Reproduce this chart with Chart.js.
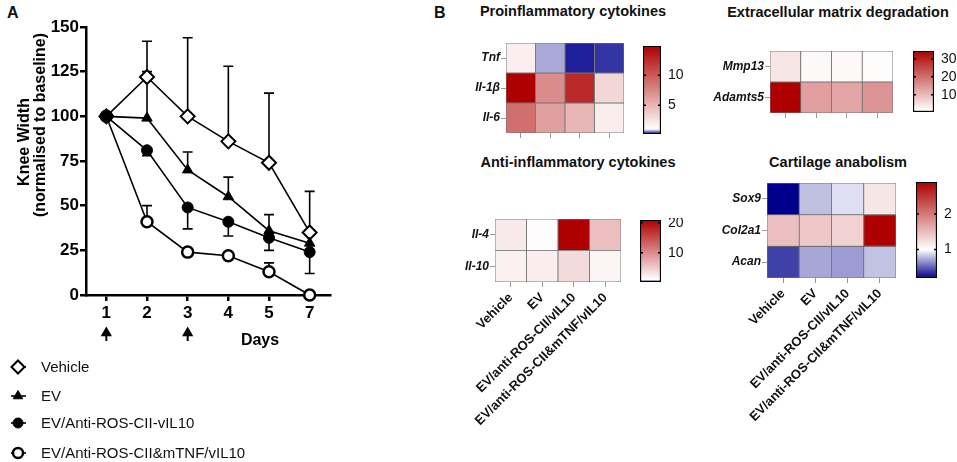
<!DOCTYPE html>
<html>
<head>
<meta charset="utf-8">
<script src="https://cdn.jsdelivr.net/npm/chart.js@4.4.1/dist/chart.umd.min.js"></script>
<style>
body { margin: 0; background: #fff; width: 957px; height: 462px; position: relative; overflow: hidden; font-family: "Liberation Sans", Arial, sans-serif; }
canvas { position: absolute; }
.t { position: absolute; font-weight: bold; white-space: nowrap; color: #111; line-height: 1; }
.c { transform: translateX(-50%); font-size: 14.5px; }
</style>
</head>
<body>
<div class="t" style="left:7px;top:5px;font-size:16px">A</div>
<div class="t" style="left:434px;top:5px;font-size:16px">B</div>
<div class="t c" style="left:573px;top:4px">Proinflammatory cytokines</div>
<div class="t c" style="left:838px;top:5px">Extracellular matrix degradation</div>
<div class="t c" style="left:578px;top:155px">Anti-inflammatory cytokines</div>
<div class="t c" style="left:838px;top:155px">Cartilage anabolism</div>

<canvas id="lineA" width="340" height="462" style="left:0;top:0"></canvas>
<canvas id="hmPro"></canvas><canvas id="cbPro"></canvas>
<canvas id="hmEcm"></canvas><canvas id="cbEcm"></canvas>
<canvas id="hmAnti"></canvas><canvas id="cbAnti"></canvas>
<canvas id="hmCart"></canvas><canvas id="cbCart"></canvas>

<script>
// パネルA: 膝幅の推移
const days = ['1', '2', '3', '4', '5', '7']
const vehicle = [100, 122, 100, 86, 74, 35]
const vehicleErrUp = [0, 20, 44, 42, 39, 23]
const ev = [100, 99, 70, 55, 36, 29]
const evErrUp = [0, 26, 10, 11, 9, 0]
const evCii = [100, 81, 49, 41, 32, 24]
const evCiiErrDown = [0, 3, 12, 8, 7, 12]
const evMtnf = [100, 41, 24, 22, 13, 0]
const evMtnfErrUp = [0, 9, 0, 0, 5, 0]
const injectionDays = ['1', '3']

// パネルB: ヒートマップ
const groups = ['Vehicle', 'EV', 'EV/anti-ROS-CII/vIL10', 'EV/anti-ROS-CII&mTNF/vIL10']
const proGenes = ['Tnf', 'Il-1β', 'Il-6']
const proTnf = [1.9, 0.72, 0.27, 0.34]
const proIl1b = [14.9, 7.3, 12.7, 3.2]
const proIl6 = [8.9, 6.2, 5.0, 2.0]
const proRange = [0.17, 14.9]
const proTicks = [5, 10]

const ecmGenes = ['Mmp13', 'Adamts5']
const ecmMmp13 = [4.3, 1.8, 1.8, 1.5]
const ecmAdamts5 = [34.5, 13.6, 13.0, 15.0]
const ecmRange = [0.3, 34.5]
const ecmTicks = [10, 20, 30]

const antiGenes = ['Il-4', 'Il-10']
const antiIl4 = [2.6, 1.2, 20.9, 6.0]
const antiIl10 = [2.2, 2.4, 3.8, 1.8]
const antiRange = [0.33, 20.9]
const antiTicks = [10, 20]

const cartGenes = ['Sox9', 'Col2a1', 'Acan']
const cartSox9 = [0.2, 0.8, 0.9, 1.19]
const cartCol2a1 = [1.48, 1.41, 1.34, 2.9]
const cartAcan = [0.4, 0.72, 0.69, 0.81]
const cartRange = [0.2, 2.9]
const cartTicks = [1, 2]

Chart.defaults.font.family = '"Liberation Sans", Arial, sans-serif'
Chart.defaults.color = '#111'
Chart.defaults.animation = false

const NAVY = [0, 0, 140]
const DARKRED = [174, 0, 0]

function mix(c, t) {
    const m = c.map(x => Math.round(255 + (x - 255) * t))
    return 'rgb(' + m.join(',') + ')'
}

// 値 -> 色 (最小:紺, 1:白, 最大:赤)
function cellColor(v, lo, hi) {
    if (v < 1) return mix(NAVY, Math.min(1, (1 - v) / (1 - lo)))
    return mix(DARKRED, Math.min(1, (v - 1) / (hi - 1)))
}

// 軸ラベルによる余白を消す
function noPad(s) {
    s.paddingTop = 0
    s.paddingBottom = 0
    s.paddingLeft = 0
    s.paddingRight = 0
}

// エラーバー・凡例など
const markers = [
    { label: 'Vehicle', style: 'rectRot', radius: 7, fill: '#fff', border: 2 },
    { label: 'EV', style: 'triangle', radius: 6, fill: '#000', border: 1 },
    { label: 'EV/Anti-ROS-CII-vIL10', style: 'circle', radius: 5.5, fill: '#000', border: 1 },
    { label: 'EV/Anti-ROS-CII&mTNF/vIL10', style: 'circle', radius: 5.5, fill: '#fff', border: 2.5 }
]
const errUp = [vehicleErrUp, evErrUp, null, evMtnfErrUp]
const errDown = [null, null, evCiiErrDown, null]

const panelAPlugin = {
    id: 'panelA',
    beforeDatasetsDraw(chart) {
        const ctx = chart.ctx
        const x = chart.scales.x, y = chart.scales.y
        ctx.save()
        ctx.strokeStyle = '#000'
        ctx.lineWidth = 1.6
        chart.data.datasets.forEach((ds, i) => {
            ds.data.forEach((v, j) => {
                const up = errUp[i] ? errUp[i][j] : 0
                const dn = errDown[i] ? errDown[i][j] : 0
                if (!up && !dn) return
                const px = x.getPixelForValue(j)
                const end = up ? v + up : v - dn
                const py = y.getPixelForValue(end)
                ctx.beginPath()
                ctx.moveTo(px, y.getPixelForValue(v))
                ctx.lineTo(px, py)
                ctx.moveTo(px - 5, py)
                ctx.lineTo(px + 5, py)
                ctx.stroke()
            })
        })
        ctx.restore()
    },
    afterDraw(chart) {
        const ctx = chart.ctx
        const x = chart.scales.x
        ctx.save()
        ctx.fillStyle = '#000'
        ctx.textBaseline = 'middle'
        ctx.textAlign = 'center'
        ctx.font = 'bold 16px "Liberation Sans", Arial'
        ctx.translate(25, 142)
        ctx.rotate(-Math.PI / 2)
        ctx.fillText('Knee Width', 0, 0)
        ctx.rotate(Math.PI / 2)
        ctx.translate(16, -17)
        ctx.rotate(-Math.PI / 2)
        ctx.fillText('(normalised to baseline)', 0, 0)
        ctx.restore()

        ctx.save()
        ctx.fillStyle = '#000'
        ctx.strokeStyle = '#000'
        // 投与日の矢印
        injectionDays.forEach(d => {
            const px = x.getPixelForValue(days.indexOf(d))
            Chart.helpers.drawPoint(ctx, { pointStyle: 'triangle', radius: 6.5, borderWidth: 0 }, px, 333)
            ctx.lineWidth = 2
            ctx.beginPath(); ctx.moveTo(px, 335); ctx.lineTo(px, 341); ctx.stroke()
        })
        ctx.font = 'bold 16px "Liberation Sans", Arial'
        ctx.textAlign = 'center'
        ctx.textBaseline = 'middle'
        ctx.fillText('Days', 260, 341)

        // 凡例
        const rows = [367, 396, 423, 453]
        ctx.font = '15px "Liberation Sans", Arial'
        ctx.textAlign = 'left'
        markers.forEach((m, i) => {
            const yy = rows[i]
            ctx.strokeStyle = '#000'
            ctx.lineWidth = 1.6
            ctx.beginPath(); ctx.moveTo(11, yy); ctx.lineTo(26, yy); ctx.stroke()
            ctx.fillStyle = m.fill
            ctx.lineWidth = m.border
            Chart.helpers.drawPoint(ctx, { pointStyle: m.style, radius: m.radius - 0.5, borderWidth: m.border }, 18, yy)
            ctx.fillStyle = '#111'
            ctx.fillText(m.label, 41, yy + 1)
        })
        ctx.restore()
    }
}

const seriesData = [vehicle, ev, evCii, evMtnf]
const drawOrder = [3, 2, 0, 1]

new Chart(document.getElementById('lineA'), {
    type: 'line',
    data: {
        labels: days,
        datasets: markers.map((m, i) => ({
            label: m.label,
            data: seriesData[i],
            borderColor: '#000',
            borderWidth: 1.6,
            pointStyle: m.style,
            pointRadius: m.radius,
            pointBackgroundColor: m.fill,
            pointBorderColor: '#000',
            pointBorderWidth: m.border,
            order: drawOrder[i],
            clip: false
        }))
    },
    options: {
        responsive: false,
        layout: { padding: { top: 27, right: 10, left: 0, bottom: 132 } },
        plugins: { legend: { display: false }, tooltip: { enabled: false } },
        scales: {
            x: {
                offset: true,
                grid: { drawOnChartArea: false, tickLength: 6, color: '#000', lineWidth: 2.5, offset: false },
                border: { color: '#000', width: 2.5 },
                ticks: { color: '#000', font: { size: 17, weight: 'bold' }, padding: 2 },
                afterFit: s => { s.height = 35 }
            },
            y: {
                min: 0, max: 150,
                grid: { drawOnChartArea: false, tickLength: 6, color: '#000', lineWidth: 2.5 },
                border: { color: '#000', width: 2.5 },
                ticks: { stepSize: 25, color: '#000', font: { size: 17, weight: 'bold' }, padding: 1 },
                afterFit: s => { s.width = 86 }
            }
        }
    },
    plugins: [panelAPlugin]
})

// ヒートマップ描画
function heatmap(id, rows, values, range, box, yw, xh, showLabels) {
    const cv = document.getElementById(id)
    const padT = 3, padR = 3
    cv.width = box.right - box.left + yw + padR
    cv.height = box.bottom - box.top + padT + xh
    cv.style.left = (box.left - yw) + 'px'
    cv.style.top = (box.top - padT) + 'px'
    new Chart(cv, {
        type: 'bar',
        data: {
            labels: groups,
            datasets: rows.map((r, i) => ({
                label: r,
                data: groups.map(() => [i, i + 1]),
                backgroundColor: values[i].map(v => cellColor(v, range[0], range[1])),
                borderColor: 'rgba(95,95,95,0.85)',
                borderWidth: 0.8,
                borderSkipped: false,
                barPercentage: 1,
                categoryPercentage: 1,
                grouped: false
            }))
        },
        options: {
            responsive: false,
            layout: { padding: { top: padT, right: padR, left: 0, bottom: 0 } },
            plugins: { legend: { display: false }, tooltip: { enabled: false } },
            scales: {
                x: {
                    grid: { drawOnChartArea: false, offset: false, tickLength: 5, color: '#999' },
                    border: { display: false },
                    ticks: {
                        autoSkip: false, maxRotation: 45, minRotation: 45, padding: 3,
                        font: { size: 13, weight: 'bold' },
                        callback: (v, i) => showLabels ? groups[i] : ''
                    },
                    afterFit: s => { s.height = xh; noPad(s) }
                },
                y: {
                    min: 0, max: rows.length, reverse: true,
                    afterBuildTicks: s => { s.ticks = rows.map((r, i) => ({ value: i + 0.5 })) },
                    grid: { drawOnChartArea: false, tickLength: 5, color: '#999' },
                    border: { display: false },
                    ticks: { padding: 1, font: { size: 12, weight: 'bold', style: 'italic' }, callback: (v, i) => rows[i] },
                    afterFit: s => { s.width = yw; noPad(s) }
                }
            }
        }
    })
}

const barTicksPlugin = {
    id: 'barTicks',
    afterDatasetsDraw(chart) {
        const a = chart.chartArea, y = chart.scales.y, ctx = chart.ctx
        ctx.save()
        ctx.strokeStyle = '#000'
        ctx.lineWidth = 1.5
        y.ticks.forEach(t => {
            const py = y.getPixelForValue(t.value)
            ctx.beginPath()
            ctx.moveTo(a.left, py); ctx.lineTo(a.left + 3, py)
            ctx.moveTo(a.right - 3, py); ctx.lineTo(a.right, py)
            ctx.stroke()
        })
        ctx.restore()
    }
}

// カラーバー描画
function colorbar(id, range, tickVals, box) {
    const cv = document.getElementById(id)
    const lo = range[0], hi = range[1]
    cv.width = box.right - box.left + 1 + 26
    cv.height = box.bottom - box.top + 4
    cv.style.left = (box.left - 1) + 'px'
    cv.style.top = (box.top - 2) + 'px'
    new Chart(cv, {
        type: 'bar',
        data: {
            labels: [''],
            datasets: [{
                data: [[lo, hi]],
                backgroundColor: c => {
                    const ch = c.chart
                    if (!ch.chartArea) return '#fff'
                    const y = ch.scales.y
                    const g = ch.ctx.createLinearGradient(0, y.getPixelForValue(lo), 0, y.getPixelForValue(hi))
                    g.addColorStop(0, mix(NAVY, 1))
                    g.addColorStop((1 - lo) / (hi - lo), '#fff')
                    g.addColorStop(1, mix(DARKRED, 1))
                    return g
                },
                borderColor: '#000',
                borderWidth: 1.5,
                borderSkipped: false,
                barPercentage: 1,
                categoryPercentage: 1
            }]
        },
        options: {
            responsive: false,
            layout: { padding: { top: 2, bottom: 2, left: 1, right: 0 } },
            plugins: { legend: { display: false }, tooltip: { enabled: false } },
            scales: {
                x: { display: false },
                y: {
                    position: 'right', min: lo, max: hi,
                    afterBuildTicks: s => { s.ticks = tickVals.map(v => ({ value: v })) },
                    grid: { display: false, drawTicks: false },
                    border: { display: false },
                    ticks: { padding: 7, font: { size: 14 } },
                    afterFit: s => { s.width = 26; noPad(s) }
                }
            }
        },
        plugins: [barTicksPlugin]
    })
}

heatmap('hmPro', proGenes, [proTnf, proIl1b, proIl6], proRange, { left: 506, right: 624, top: 43, bottom: 133 }, 60, 10, false)
colorbar('cbPro', proRange, proTicks, { left: 643, right: 661, top: 46, bottom: 134 })

heatmap('hmEcm', ecmGenes, [ecmMmp13, ecmAdamts5], ecmRange, { left: 770, right: 893, top: 51, bottom: 113 }, 75, 10, false)
colorbar('cbEcm', ecmRange, ecmTicks, { left: 913, right: 934, top: 51, bottom: 112 })

heatmap('hmAnti', antiGenes, [antiIl4, antiIl10], antiRange, { left: 495, right: 621, top: 219, bottom: 282 }, 55, 170, true)
colorbar('cbAnti', antiRange, antiTicks, { left: 640, right: 661, top: 220, bottom: 282 })

heatmap('hmCart', cartGenes, [cartSox9, cartCol2a1, cartAcan], cartRange, { left: 767, right: 896, top: 183, bottom: 278 }, 60, 170, true)
colorbar('cbCart', cartRange, cartTicks, { left: 916, right: 937, top: 182, bottom: 278 })
</script>
</body>
</html>
